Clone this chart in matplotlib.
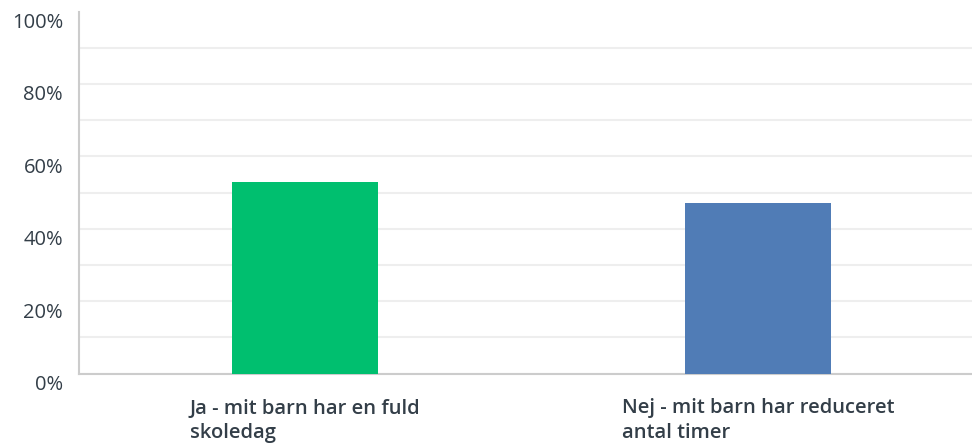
import matplotlib.pyplot as plt
from matplotlib.transforms import ScaledTranslation
import numpy as np

categories = ['Ja - mit barn har en fuld\nskoledag', 'Nej - mit barn har reduceret\nantal timer']
values = [52.94, 47.06]
colors = ['#00bf6f', '#507cb6']
yticks = [0, 20, 40, 60, 80, 100]
ytick_labels = ['0%', '20%', '40%', '60%', '80%', '100%']

plt.rcParams['font.family'] = ['Open Sans', 'DejaVu Sans']

fig = plt.figure(figsize=(9.72, 4.45), dpi=100)
W, H = 972, 445
ax = fig.add_axes([79 / W, (H - 373.5) / H, (984 - 79) / W, (373.5 - 11.5) / H])

x = np.arange(len(categories))
ax.bar(x, values, width=0.323, color=colors, zorder=3)

ax.set_xlim(-0.5, 1.5)
ax.set_ylim(0, 100)
ax.set_yticks(yticks)
ax.set_yticklabels(ytick_labels, fontsize=14.5, color='#333e48')
ax.set_yticks(np.arange(10, 100, 20), minor=True)
ax.tick_params(axis='y', which='both', length=0, pad=11.5)
ax.set_xticks(x)
ax.set_xticklabels(categories, fontsize=14.5, color='#333e48', fontweight='semibold',
                   ha='center', multialignment='left', linespacing=1.27)
ax.tick_params(axis='x', length=0, pad=18)

ax.grid(axis='y', which='both', color='#eeeeee', linewidth=1.5, zorder=0)
ax.yaxis.get_major_ticks()[-1].gridline.set_visible(False)

for s in ['top', 'right']:
    ax.spines[s].set_visible(False)
for s in ['left', 'bottom']:
    ax.spines[s].set_color('#cccccc')
    ax.spines[s].set_linewidth(1.5)

# labels sit a bit below their gridlines in the original
off = ScaledTranslation(0, -9 / 100, fig.dpi_scale_trans)
for lab in ax.get_yticklabels():
    lab.set_transform(lab.get_transform() + off)

fig.savefig('out.png', dpi=100)
